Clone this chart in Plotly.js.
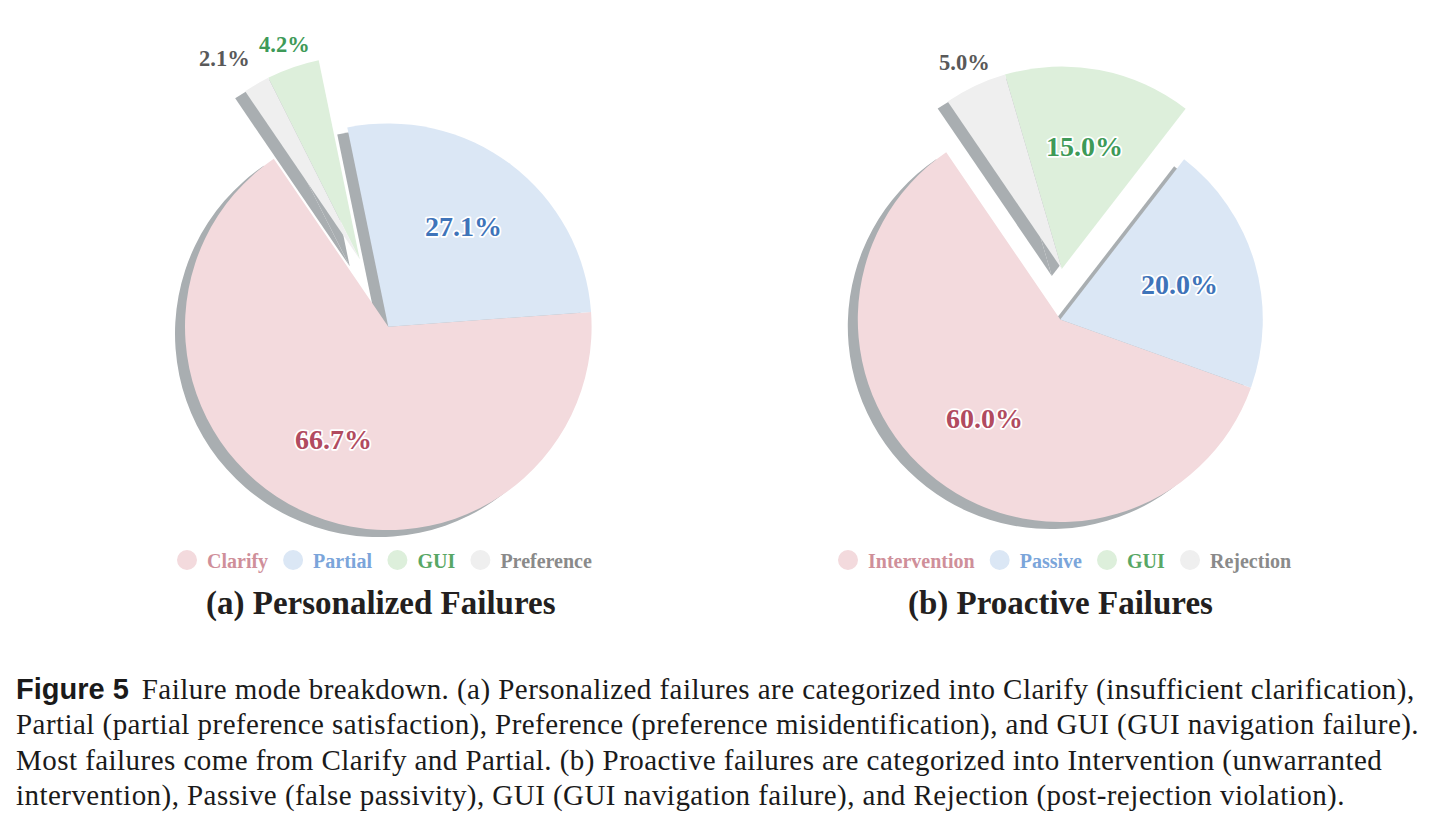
<!DOCTYPE html>
<html>
<head>
<meta charset="utf-8">
<script src="https://cdn.plot.ly/plotly-3.0.1.min.js"></script>
<style>
  html, body { margin: 0; padding: 0; background: #ffffff; }
  #chart { width: 1448px; height: 816px; }
</style>
</head>
<body>
<div id="chart"></div>
<script>
// ---- data ----
const personalizedLabels = ['Clarify', 'Partial', 'GUI', 'Preference'];
const personalizedValues = [66.7, 27.1, 4.2, 2.1];
const proactiveLabels = ['Intervention', 'Passive', 'GUI', 'Rejection'];
const proactiveValues = [60.0, 20.0, 15.0, 5.0];
const personalizedTitle = '(a) Personalized Failures';
const proactiveTitle = '(b) Proactive Failures';
const captionLines = [
  '<span style="font-family:Liberation Sans;font-weight:bold;letter-spacing:0px">Figure 5</span> \u2006Failure mode breakdown. (a) Personalized failures are categorized into Clarify (insufficient clarification),',
  'Partial (partial preference satisfaction), Preference (preference misidentification), and GUI (GUI navigation failure).',
  'Most failures come from Clarify and Partial. (b) Proactive failures are categorized into Intervention (unwarranted',
  'intervention), Passive (false passivity), GUI (GUI navigation failure), and Rejection (post-rejection violation).'
];

// ---- styling ----
const W = 1448, H = 816;
const sliceColors = ['#f3dadd', '#dbe7f5', '#ddefdb', '#efefef'];
const valueColors = ['#b14b5f', '#3f74b9', '#3e9a58', '#595959'];
const legendTextColors = ['#cf8f9a', '#7ba5da', '#58a765', '#8a8a8a'];
const shadowColor = '#a9aeb1';
const clear = 'rgba(0,0,0,0)';
const shadowDx = -10, shadowDy = 7;
const serif = 'Liberation Serif';

// boundary (math angle, deg) where the first slice meets the pulled-out group
const firstEdgeDeg = 124.3;

function domainFor(cx, cy, r) {
  return { x: [(cx - r) / W, (cx + r) / W], y: [1 - (cy + r) / H, 1 - (cy - r) / H] };
}

const traces = [];
const annotations = [];
const outlinedLabels = [];   // annotation indices that get a white halo

function buildPie(labels, values, opts) {
  const total = values.reduce((a, b) => a + b, 0);
  // counterclockwise layout: first slice's clockwise edge sits at firstEdgeDeg
  let rot = (90 - firstEdgeDeg) - 360 * values[0] / total;
  rot = ((rot % 360) + 540) % 360 - 180;

  // the pulled group sits just clockwise of the first slice edge and moves out as one piece
  const isPulled = i => opts.pulled.includes(i);
  const pulledShare = values.reduce((s, v, i) => s + (isPulled(i) ? v : 0), 0) / total;
  const groupMid = (firstEdgeDeg - 180 * pulledShare) * Math.PI / 180;
  const gx = opts.cx + opts.pull * opts.r * Math.cos(groupMid);
  const gy = opts.cy - opts.pull * opts.r * Math.sin(groupMid);

  const base = {
    type: 'pie', labels: labels, values: values, sort: false,
    direction: 'counterclockwise', rotation: rot,
    showlegend: false, hoverinfo: 'skip', textinfo: 'none'
  };
  const pieces = [[false, opts.cx, opts.cy], [true, gx, gy]];
  // drop shadows first, then the coloured slices on top
  pieces.forEach(([grp, x, y]) => traces.push(Object.assign({}, base, {
    domain: domainFor(x + shadowDx, y + shadowDy, opts.r),
    marker: { colors: values.map((v, i) => isPulled(i) === grp ? shadowColor : clear), line: { width: 0 } }
  })));
  pieces.forEach(([grp, x, y]) => traces.push(Object.assign({}, base, {
    domain: domainFor(x, y, opts.r),
    marker: { colors: values.map((v, i) => isPulled(i) === grp ? sliceColors[i] : clear), line: { width: 0 } }
  })));

  // percentage labels along each slice's mid angle
  let acc = 0;
  values.forEach((v, i) => {
    const midDeg = firstEdgeDeg + 360 * (acc + v / 2) / total + (opts.labelTurn[i] || 0);
    const mid = midDeg * Math.PI / 180;
    acc += v;
    const [ox, oy] = isPulled(i) ? [gx, gy] : [opts.cx, opts.cy];
    const d = opts.labelDist[i] * opts.r;
    const outside = opts.labelDist[i] > 1;
    if (!outside) outlinedLabels.push(annotations.length);
    annotations.push({
      text: v.toFixed(1) + '%',
      xref: 'paper', yref: 'paper', showarrow: false,
      x: (ox + d * Math.cos(mid)) / W, y: 1 - (oy - d * Math.sin(mid)) / H,
      xanchor: 'center', yanchor: 'middle',
      font: { family: serif, size: outside ? 22.5 : 28, weight: 'bold', color: valueColors[i] }
    });
  });
}

buildPie(personalizedLabels, personalizedValues,
  { cx: 388.3, cy: 326.7, r: 203.3, pull: 0.36, pulled: [2, 3],
    labelDist: [0.615, 0.615, 1.12, 1.19], labelTurn: [0, 0, 0, 3.5] });
buildPie(proactiveLabels, proactiveValues,
  { cx: 1060.3, cy: 319.5, r: 202.5, pull: 0.25, pulled: [2, 3],
    labelDist: [0.615, 0.615, 0.615, 1.13], labelTurn: [0, 0, 0, 0] });

// white halo behind the in-slice percentages
const halo = document.createElement('style');
halo.textContent = outlinedLabels.map(k =>
  '#chart g.annotation[data-index="' + k + '"] text').join(',\n') +
  ' { paint-order: stroke fill; stroke: #ffffff; stroke-width: 3.5px; stroke-linejoin: round; }';
document.head.appendChild(halo);

// legend entries (circle markers, coloured names)
function legendTraces(labels, legendId) {
  return labels.map((lab, i) => ({
    type: 'scatter', mode: 'markers', x: [null], y: [null],
    name: '<span style="color:' + legendTextColors[i] + '">' + lab + '</span>',
    legend: legendId, hoverinfo: 'skip',
    marker: { symbol: 'circle', size: 16, color: sliceColors[i], line: { color: sliceColors[i], width: 4 } }
  }));
}
traces.push(...legendTraces(personalizedLabels, 'legend'));
traces.push(...legendTraces(proactiveLabels, 'legend2'));

const legendBase = {
  orientation: 'h', yanchor: 'middle', y: 1 - 560 / H, xanchor: 'left',
  font: { family: serif, size: 20, weight: 'bold', color: '#888' },
  bgcolor: clear, borderwidth: 0, itemclick: false, itemdoubleclick: false
};

[{ text: personalizedTitle, cx: 380.5 }, { text: proactiveTitle, cx: 1060.5 }].forEach(t => annotations.push({
  text: t.text, xref: 'paper', yref: 'paper', x: t.cx / W, y: 1 - 603 / H,
  xanchor: 'center', yanchor: 'middle', showarrow: false,
  font: { family: serif, size: 33, weight: 'bold', color: '#231f20' }
}));

const lineY = [689, 724.5, 760, 795.5];
captionLines.forEach((t, i) => annotations.push({
  text: '<span style="letter-spacing:0.45px">' + t + '</span>',
  xref: 'paper', yref: 'paper', x: 14 / W, y: 1 - lineY[i] / H,
  xanchor: 'left', yanchor: 'middle', align: 'left', showarrow: false,
  font: { family: serif, size: 29, color: '#1a1a1a' }
}));

const layout = {
  width: W, height: H,
  margin: { l: 0, r: 0, t: 0, b: 0 },
  paper_bgcolor: '#ffffff', plot_bgcolor: clear,
  xaxis: { visible: false }, yaxis: { visible: false },
  hovermode: false,
  legend: Object.assign({}, legendBase, { x: 167 / W }),
  legend2: Object.assign({}, legendBase, { x: 828 / W }),
  annotations: annotations
};

Plotly.newPlot('chart', traces, layout, { displayModeBar: false, staticPlot: true });
</script>
</body>
</html>
